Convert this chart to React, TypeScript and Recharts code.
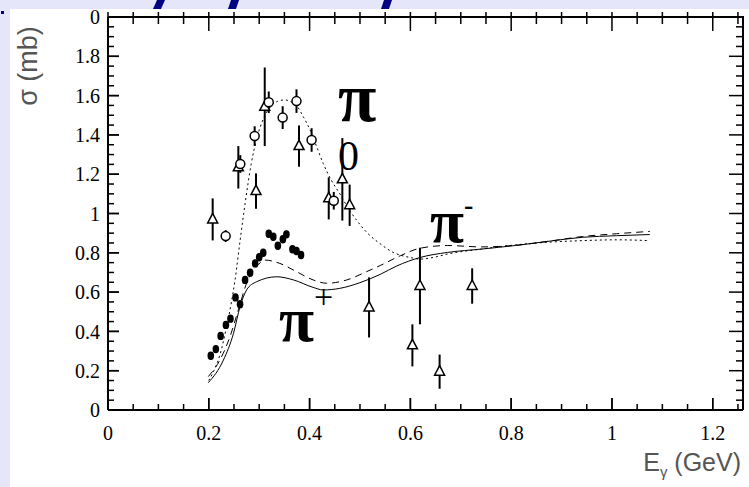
import { ComposedChart, Line, Scatter, ErrorBar, XAxis, YAxis } from 'recharts';

// sigma(E_gamma) photoproduction data, points as [E (GeV), sigma (mb), error]
const pi0Circles = [
  [0.2335, 0.885, 0.03], [0.2625, 1.252, 0.045], [0.291, 1.394, 0.05], [0.319, 1.566, 0.055],
  [0.3466, 1.488, 0.058], [0.374, 1.572, 0.06], [0.404, 1.374, 0.06], [0.448, 1.065, 0.045],
];
const pi0Triangles = [
  [0.2077, 0.97, 0.107], [0.2586, 1.235, 0.108], [0.2937, 1.114, 0.09], [0.311, 1.543, 0.2],
  [0.379, 1.343, 0.105], [0.438, 1.077, 0.107], [0.465, 1.174, 0.21], [0.4795, 1.042, 0.105],
];
const piMinusTriangles = [
  [0.518, 0.522, 0.153], [0.604, 0.329, 0.107], [0.619, 0.631, 0.195], [0.658, 0.195, 0.087], [0.7226, 0.631, 0.09],
];
const piPlusDiamonds = [
  [0.204, 0.276, 0.018], [0.214, 0.31, 0.018], [0.2235, 0.377, 0.018], [0.234, 0.433, 0.018],
  [0.243, 0.465, 0.018], [0.253, 0.573, 0.018], [0.262, 0.538, 0.018], [0.272, 0.662, 0.018],
  [0.282, 0.699, 0.018], [0.292, 0.746, 0.018], [0.3, 0.777, 0.018], [0.308, 0.8, 0.018],
  [0.319, 0.897, 0.018], [0.328, 0.882, 0.018], [0.337, 0.836, 0.018], [0.347, 0.869, 0.018],
  [0.354, 0.894, 0.018], [0.366, 0.818, 0.018], [0.374, 0.809, 0.018], [0.383, 0.789, 0.018],
];

// model curves, [E, sigma]
const pi0Curve = [
  [0.2, 0.15], [0.21, 0.2], [0.222, 0.28], [0.235, 0.42], [0.245, 0.55], [0.252, 0.66], [0.262, 0.86],
  [0.272, 1.05], [0.284, 1.25], [0.295, 1.38], [0.308, 1.48], [0.321, 1.54], [0.336, 1.57], [0.351, 1.578],
  [0.362, 1.57], [0.374, 1.55], [0.388, 1.49], [0.401, 1.425], [0.414, 1.34], [0.427, 1.255], [0.443, 1.17],
  [0.46, 1.1], [0.476, 1.03], [0.493, 0.967], [0.515, 0.9], [0.54, 0.846], [0.566, 0.802], [0.6, 0.776],
  [0.619, 0.768], [0.645, 0.776], [0.674, 0.794], [0.741, 0.819], [0.808, 0.84], [0.875, 0.854],
  [0.942, 0.862], [1.009, 0.866], [1.075, 0.862],
];
const piMinusCurve = [
  [0.199, 0.17], [0.222, 0.254], [0.242, 0.373], [0.2586, 0.509], [0.275, 0.645], [0.295, 0.73],
  [0.3115, 0.763], [0.341, 0.746], [0.374, 0.704], [0.407, 0.662], [0.434, 0.645], [0.474, 0.662],
  [0.513, 0.704], [0.54, 0.735], [0.58, 0.785], [0.619, 0.823], [0.674, 0.837], [0.741, 0.83],
  [0.808, 0.838], [0.875, 0.859], [0.942, 0.883], [1.009, 0.897], [1.075, 0.909],
];
const piPlusCurve = [
  [0.199, 0.139], [0.229, 0.254], [0.249, 0.39], [0.262, 0.526], [0.275, 0.611], [0.295, 0.653],
  [0.335, 0.678], [0.368, 0.662], [0.407, 0.624], [0.427, 0.611], [0.46, 0.619], [0.5, 0.648],
  [0.54, 0.69], [0.573, 0.733], [0.619, 0.776], [0.674, 0.802], [0.741, 0.819], [0.808, 0.837],
  [0.875, 0.859], [0.942, 0.879], [1.009, 0.887], [1.075, 0.893],
];

const xMajorTicks = [0, 0.2, 0.4, 0.6, 0.8, 1, 1.2];
const yMajorTicks = [0, 0.2, 0.4, 0.6, 0.8, 1, 1.2, 1.4, 1.6, 1.8, 2];
const xMinorTicks = Array.from({ length: 26 }, (_, i) => i * 0.05);
const yMinorTicks = Array.from({ length: 41 }, (_, i) => i * 0.05);

const X_MAX = 1.26;
const Y_MAX = 2;
const W = 749;
const H = 487;
const MARGIN = { top: 17, right: 6, bottom: 37, left: 0 };
// plot area: left 108, right 743, top 17, bottom 410
const L = 108, R = W - MARGIN.right, T = MARGIN.top, B = 410;
const px = (e: number) => L + (e / X_MAX) * (R - L);
const py = (s: number) => B - (s / Y_MAX) * (B - T);
const isMajor = (t: number) => Math.abs(t * 5 - Math.round(t * 5)) < 1e-6;

const toPoints = (rows: number[][]) => rows.map(([e, s, err]) => ({ e, s, err }));
const serif = 'Liberation Serif, Times New Roman, serif';
const sans = 'Liberation Sans, Arial, sans-serif';
const onAxes = { xAxisId: 'x', yAxisId: 'y', isAnimationActive: false };

const OpenCircle = (p: any) => <circle cx={p.cx} cy={p.cy} r={4.5} fill='#fff' stroke='#000' strokeWidth={1.5} />;
const OpenTriangle = (p: any) => (
  <polygon points={`${p.cx},${p.cy - 6} ${p.cx + 5},${p.cy + 3.5} ${p.cx - 5},${p.cy + 3.5}`} fill='#fff' stroke='#000' strokeWidth={1.5} />
);
const FilledDiamond = (p: any) => <ellipse cx={p.cx} cy={p.cy} rx={3.3} ry={4.2} fill='#000' />;

const curves = [
  { rows: pi0Curve, dash: '2 3' },
  { rows: piMinusCurve, dash: '7 5' },
  { rows: piPlusCurve, dash: undefined },
];
const pointSets = [
  { rows: pi0Triangles, shape: OpenTriangle },
  { rows: piMinusTriangles, shape: OpenTriangle },
  { rows: pi0Circles, shape: OpenCircle },
  { rows: piPlusDiamonds, shape: FilledDiamond },
];

// frame edges with inward ticks on every side
const Frame = () => (
  <svg width={W} height={H} style={{ position: 'absolute', left: 0, top: 0, zIndex: 2, pointerEvents: 'none' }}>
    <g stroke='#000' strokeWidth={1.5}>
      {xMinorTicks.map((t) => (
        <g key={`x${t}`}>
          <line x1={px(t)} y1={B} x2={px(t)} y2={B - (isMajor(t) ? 12 : 6)} />
          <line x1={px(t)} y1={T - 5} x2={px(t)} y2={T + (isMajor(t) ? 14 : 7)} />
        </g>
      ))}
      {yMinorTicks.map((t) => (
        <g key={`y${t}`}>
          <line x1={L} y1={py(t)} x2={L + (isMajor(t) ? 11 : 6)} y2={py(t)} />
          <line x1={R} y1={py(t)} x2={R - (isMajor(t) ? 14 : 7)} y2={py(t)} />
        </g>
      ))}
    </g>
    <path d={`M${L},${T} H${R} V${B}`} fill='none' stroke='#000' strokeWidth={2} />
  </svg>
);

const piStyle = { position: 'absolute' as const, zIndex: 3, fontFamily: serif, lineHeight: 1, color: '#000', whiteSpace: 'nowrap' as const };

export default function App() {
  return (
    <div style={{ position: 'absolute', left: 0, top: 0, width: W, height: H, background: '#e6e6fa', overflow: 'hidden' }}>
      <div style={{ position: 'absolute', left: 10, top: 9, width: W - 10, height: H - 9, background: '#fff' }} />
      <svg width={W} height={10} style={{ position: 'absolute', left: 0, top: 0 }}>
        <polygon points='157,0 165,0 161,9 153,9' fill='#000080' />
        <polygon points='231,0 239,0 236,9 228,9' fill='#000080' />
        <polygon points='384,0 392,0 389,9 381,9' fill='#000080' />
      </svg>
      <div style={{ position: 'absolute', left: 1, top: 11, width: 3, height: 3, background: '#000080' }} />

      <div style={{ position: 'absolute', left: 0, top: 0, zIndex: 1 }}>
        <ComposedChart width={W} height={H} margin={MARGIN}>
          <XAxis
            xAxisId='x' dataKey='e' type='number' domain={[0, X_MAX]} ticks={xMajorTicks} interval={0} allowDataOverflow
            height={40} axisLine={{ stroke: '#000', strokeWidth: 2 }} tickLine={{ stroke: '#000', strokeWidth: 1.5 }}
            tickSize={-12} tickMargin={28} tick={{ fill: '#000', fontSize: 20, fontFamily: serif }}
          />
          <YAxis
            yAxisId='y' type='number' domain={[0, Y_MAX]} ticks={yMajorTicks} interval={0} allowDataOverflow
            width={108} axisLine={{ stroke: '#000', strokeWidth: 2 }} tickLine={{ stroke: '#000', strokeWidth: 1.5 }}
            tickSize={-11} tickMargin={19} tickFormatter={(v: number) => (v === 2 ? '0' : String(v))}
            tick={{ fill: '#000', fontSize: 20, fontFamily: serif }}
          />
          {curves.map((c, i) => (
            <Line key={`c${i}`} {...onAxes} data={toPoints(c.rows)} dataKey='s' type='monotone' dot={false}
              stroke='#000' strokeWidth={1} strokeDasharray={c.dash} />
          ))}
          {pointSets.map((p, i) => (
            <Scatter key={`p${i}`} {...onAxes} data={toPoints(p.rows)} dataKey='s' shape={p.shape}>
              <ErrorBar dataKey='err' direction='y' width={0} stroke='#000' strokeWidth={2} />
            </Scatter>
          ))}
        </ComposedChart>
      </div>

      <Frame />

      <div style={{ position: 'absolute', zIndex: 3, left: 28, top: 66, transform: 'translate(-50%, -50%) rotate(-90deg)',
        fontFamily: sans, fontSize: 27, fontWeight: 300, color: '#555', whiteSpace: 'nowrap' }}>
        σ (mb)
      </div>
      <div style={{ position: 'absolute', zIndex: 3, right: 8, top: 448, fontFamily: sans, fontSize: 25, color: '#555', whiteSpace: 'nowrap' }}>
        E<sub style={{ fontSize: 15 }}>γ</sub> (GeV)
      </div>

      <div style={{ ...piStyle, left: 338, top: 63, fontSize: 70, fontWeight: 'bold' }}>π</div>
      <div style={{ ...piStyle, left: 338, top: 135, fontSize: 42 }}>0</div>
      <div style={{ ...piStyle, left: 430, top: 190, fontSize: 62, fontWeight: 'bold' }}>
        π<span style={{ position: 'relative', top: -28, fontSize: 28 }}>-</span>
      </div>
      <div style={{ ...piStyle, left: 279, top: 288, fontSize: 64, fontWeight: 'bold' }}>
        π<span style={{ position: 'relative', top: -33, fontSize: 34, fontWeight: 'normal' }}>+</span>
      </div>
    </div>
  );
}
